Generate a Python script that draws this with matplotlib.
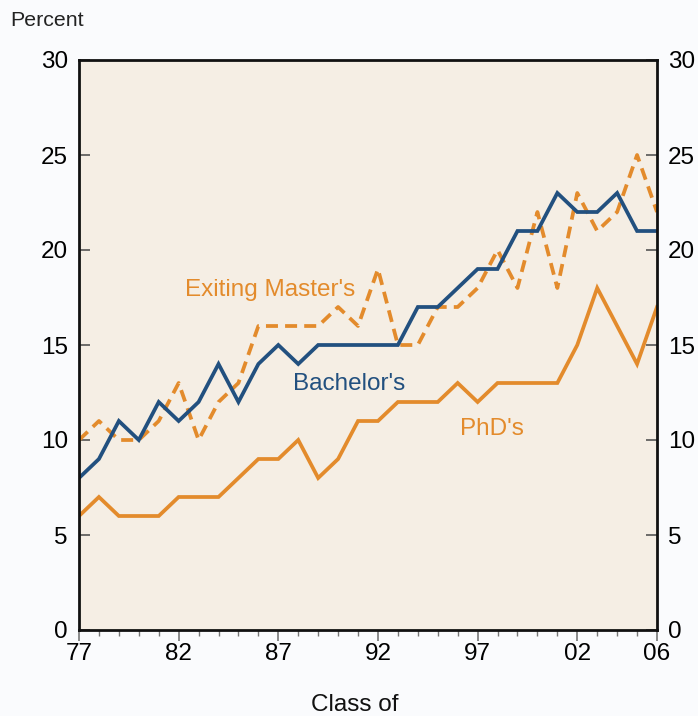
import matplotlib
matplotlib.use("Agg")
import matplotlib.pyplot as plt

years = list(range(1977, 2007))
bachelors = [8, 9, 11, 10, 12, 11, 12, 14, 12, 14, 15, 14, 15, 15, 15,
             15, 15, 17, 17, 18, 19, 19, 21, 21, 23, 22, 22, 23, 21, 21]
masters = [10, 11, 10, 10, 11, 13, 10, 12, 13, 16, 16, 16, 16, 17, 16,
           19, 15, 15, 17, 17, 18, 20, 18, 22, 18, 23, 21, 22, 25, 22]
phds = [6, 7, 6, 6, 6, 7, 7, 7, 8, 9, 9, 10, 8, 9, 11,
        11, 12, 12, 12, 13, 12, 13, 13, 13, 13, 15, 18, 16, 14, 17]
x_major = [1977, 1982, 1987, 1992, 1997, 2002, 2006]
x_labels = ["77", "82", "87", "92", "97", "02", "06"]
y_ticks = [0, 5, 10, 15, 20, 25, 30]

BLUE = "#22507F"
ORANGE = "#E38B2C"

plt.rcParams["font.family"] = ["Liberation Sans", "DejaVu Sans"]

fig = plt.figure(figsize=(6.98, 7.16), dpi=100, facecolor="#FAFBFD")
ax = fig.add_axes([79 / 698, 86 / 716, 578 / 698, 570 / 716])
ax.set_facecolor("#F5EEE4")

ax.plot(years, phds, color=ORANGE, lw=2.7, solid_joinstyle="miter")
ax.plot(years, masters, color=ORANGE, lw=2.7, dashes=(3.2, 1.9))
ax.plot(years, bachelors, color=BLUE, lw=2.7, solid_joinstyle="miter")

ax.set_xlim(1977, 2006)
ax.set_ylim(0, 30)
ax.set_xticks(x_major)
ax.set_xticklabels(x_labels)
ax.set_xticks(years, minor=True)
ax.set_yticks(y_ticks)
ax.tick_params(axis="x", which="major", direction="out", length=8, width=1.2,
               color="#777777", labelsize=17.5, pad=1)
ax.tick_params(axis="x", which="minor", direction="out", length=4, width=1,
               color="#777777")
ax.tick_params(axis="y", direction="in", length=8, width=1.2, color="#555555",
               labelsize=17.5, left=True, right=True, labelleft=True,
               labelright=True, pad=8)
for s in ax.spines.values():
    s.set_linewidth(2)
    s.set_color("#111111")

ax.text(1986.6, 17.9, "Exiting Master's", color=ORANGE, fontsize=17.5, ha="center", va="center")
ax.text(1990.55, 12.95, "Bachelor's", color=BLUE, fontsize=17.5, ha="center", va="center")
ax.text(1997.7, 10.6, "PhD's", color=ORANGE, fontsize=17.5, ha="center", va="center")

fig.text(10 / 698, 1 - 20 / 716, "Percent", fontsize=15.4, va="center", ha="left", color="#222222")
fig.text(355 / 698, 1 - 705 / 716, "Class of", fontsize=17.5, va="center", ha="center", color="#111111")

fig.savefig("out.png", dpi=100, facecolor=fig.get_facecolor())
